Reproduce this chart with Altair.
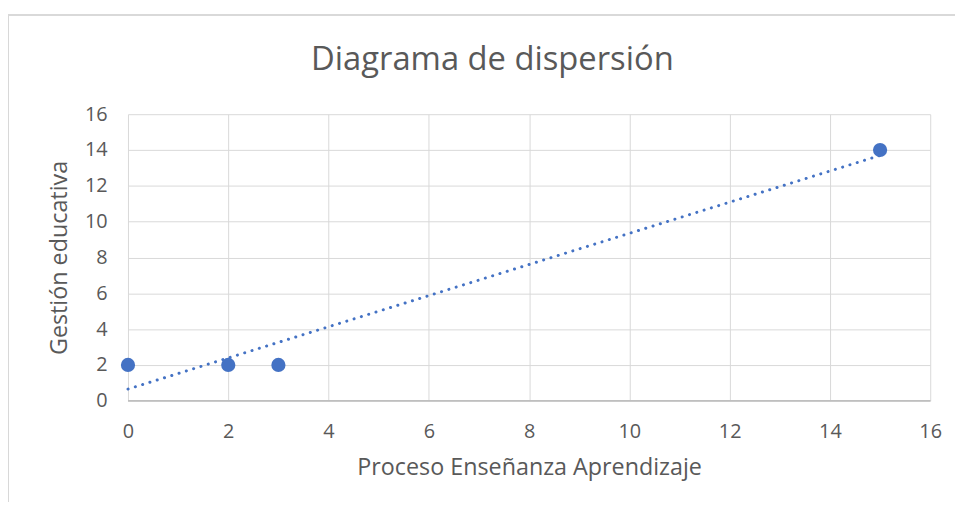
import altair as alt
import pandas as pd

x_vals = [0, 2, 3, 15]
y_vals = [2, 2, 2, 14]
x_ticks = [0, 2, 4, 6, 8, 10, 12, 14, 16]
y_ticks = [0, 2, 4, 6, 8, 10, 12, 14, 16]
chart_title = ["Diagrama de dispersión"]

df = pd.DataFrame({"x": x_vals, "y": y_vals})

FONT = "Open Sans"
BLUE = "#4472C4"
TXT = "#595959"

W, H = 809, 289

xs = alt.X("x:Q", scale=alt.Scale(domain=[0, 16], nice=False),
           axis=alt.Axis(values=x_ticks, title="Proceso Enseñanza Aprendizaje",
                         ticks=False, labelPadding=21, titlePadding=14,
                         labelFlush=False, domain=False, gridColor="#d9d9d9"))
ys = alt.Y("y:Q", scale=alt.Scale(domain=[0, 16], nice=False),
           axis=alt.Axis(values=y_ticks, title="Gestión educativa",
                         ticks=False, labelPadding=21, titlePadding=13,
                         labelFlush=False, domain=False, gridColor="#d9d9d9"))

border = alt.Chart(df).mark_rect(fill=None, stroke="#d9d9d9", strokeWidth=1.5).encode(
    x=alt.value(-121), x2=alt.value(W + 60), y=alt.value(-100), y2=alt.value(H + 130)
)

baseline = alt.Chart(df).mark_rule(color="#bfbfbf", strokeWidth=1.2).encode(
    x=alt.value(0), x2=alt.value(W), y=alt.value(H)
)

title = alt.Chart(pd.DataFrame({"t": chart_title})).mark_text(
    font=FONT, fontSize=33, color=TXT, align="center", baseline="alphabetic"
).encode(text="t:N", x=alt.value(367.5), y=alt.value(-45))

points = alt.Chart(df).mark_circle(size=205, color=BLUE, opacity=1).encode(x=xs, y=ys)

trend = alt.Chart(df).transform_regression("x", "y").mark_line(
    color=BLUE, strokeWidth=3, strokeDash=[0.1, 7.6], strokeCap="round"
).encode(x=xs, y=ys)

chart = alt.layer(border, baseline, title, trend, points).properties(
    width=W, height=H,
    autosize=alt.AutoSizeParams(type="none"),
    padding={"left": 121, "top": 105, "right": 25, "bottom": 100},
).configure_view(stroke=None).configure_axis(
    labelFont=FONT, titleFont=FONT, labelFontSize=20, titleFontSize=23.5,
    labelColor=TXT, titleColor=TXT, titleFontWeight="normal", grid=True
)

chart.save("out.html", embed_options={"renderer": "svg", "actions": False})
